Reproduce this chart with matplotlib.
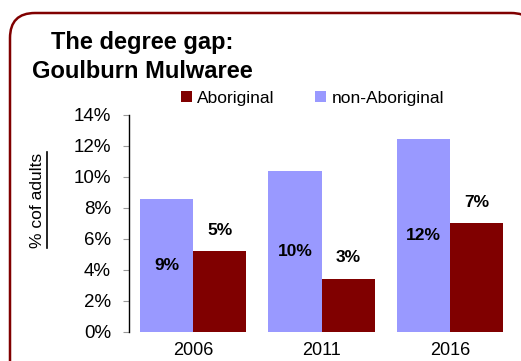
import matplotlib
matplotlib.use("Agg")
import matplotlib.pyplot as plt
import matplotlib.patches as patches
from matplotlib.path import Path
import numpy as np

plt.rcParams['font.family'] = ['Liberation Sans', 'DejaVu Sans']

years = ['2006', '2011', '2016']
aboriginal = [5.2, 3.4, 7.0]
non_aboriginal = [8.56, 10.37, 12.4]
aboriginal_labels = ['5%', '3%', '7%']
non_aboriginal_labels = ['9%', '10%', '12%']
yticks = [0, 2, 4, 6, 8, 10, 12, 14]

red = '#800000'
purple = '#9999FF'

fig = plt.figure(figsize=(5.21, 3.61), dpi=100)

# background axes in pixel units for the frame and the label underline
bg = fig.add_axes([0, 0, 1, 1])
bg.set_xlim(0, 521)
bg.set_ylim(361, 0)
bg.axis('off')

# rounded frame: left side, top, and the start of the top-right corner
left, top, right, bottom, r = 10, 13, 536, 400, 25
verts = [(left, bottom), (left, top + r), (left, top), (left + r, top),
         (right - r, top), (right, top), (right, top + r), (right, bottom)]
codes = [Path.MOVETO, Path.LINETO, Path.CURVE3, Path.CURVE3,
         Path.LINETO, Path.CURVE3, Path.CURVE3, Path.LINETO]
bg.add_patch(patches.PathPatch(Path(verts, codes), fill=False,
                               edgecolor=red, linewidth=1.8))

ax = fig.add_axes([129 / 521, 1 - 331.7 / 361, 385 / 521, 217 / 361])

x = np.arange(len(years))
w = 0.414
b1 = ax.bar(x - w / 2, non_aboriginal, w, color=purple, label='non-Aboriginal')
b2 = ax.bar(x + w / 2, aboriginal, w, color=red, label='Aboriginal')

# value labels: inside the light bars, above the dark ones
for xi, v, t in zip(x, non_aboriginal, non_aboriginal_labels):
    ax.text(xi - w / 2, v / 2, t, ha='center', va='center',
            fontsize=12.5, fontweight='bold')
for xi, v, t in zip(x, aboriginal, aboriginal_labels):
    ax.annotate(t, (xi + w / 2, v), xytext=(0, 21), textcoords='offset pixels',
                ha='center', va='center', fontsize=12.5, fontweight='bold')

ax.set_xlim(-0.5, 2.5)
ax.set_ylim(0, 14)
ax.set_yticks(yticks)
ax.set_yticklabels([f'{t}%' for t in yticks], fontsize=13.5)
ax.set_xticks(x)
ax.set_xticklabels(years, fontsize=13)
ax.tick_params(axis='x', length=0, pad=7.5)
ax.tick_params(axis='y', length=4.5, color='#999999', pad=8.5)
for s in ['top', 'right', 'bottom']:
    ax.spines[s].set_visible(False)
ax.spines['left'].set_color('black')
ax.spines['left'].set_linewidth(1)

ylab = bg.text(37, 200, '% cof adults', rotation=90,
               ha='center', va='center', fontsize=12.5)

handles = [b2, b1]
ax.legend(handles, ['Aboriginal', 'non-Aboriginal'], ncol=2, frameon=False,
          loc='center left', bbox_to_anchor=(174 / 521, 1 - 98 / 361),
          bbox_transform=fig.transFigure, fontsize=12.5,
          handlelength=0.65, handleheight=0.65, handletextpad=0.3,
          columnspacing=2.3, borderaxespad=0)

fig.text(142 / 521, 1 - 42 / 361, 'The degree gap:', ha='center', va='center',
         fontsize=17, fontweight='bold')
fig.text(142 / 521, 1 - 71 / 361, 'Goulburn Mulwaree', ha='center', va='center',
         fontsize=17, fontweight='bold')

# underline the y label
fig.canvas.draw()
bb = ylab.get_window_extent().transformed(bg.transData.inverted())
ux = max(bb.x0, bb.x1) + 2
bg.plot([ux, ux], [bb.y0, bb.y1], color='black', linewidth=1.2)

fig.savefig('out.png', dpi=100)
